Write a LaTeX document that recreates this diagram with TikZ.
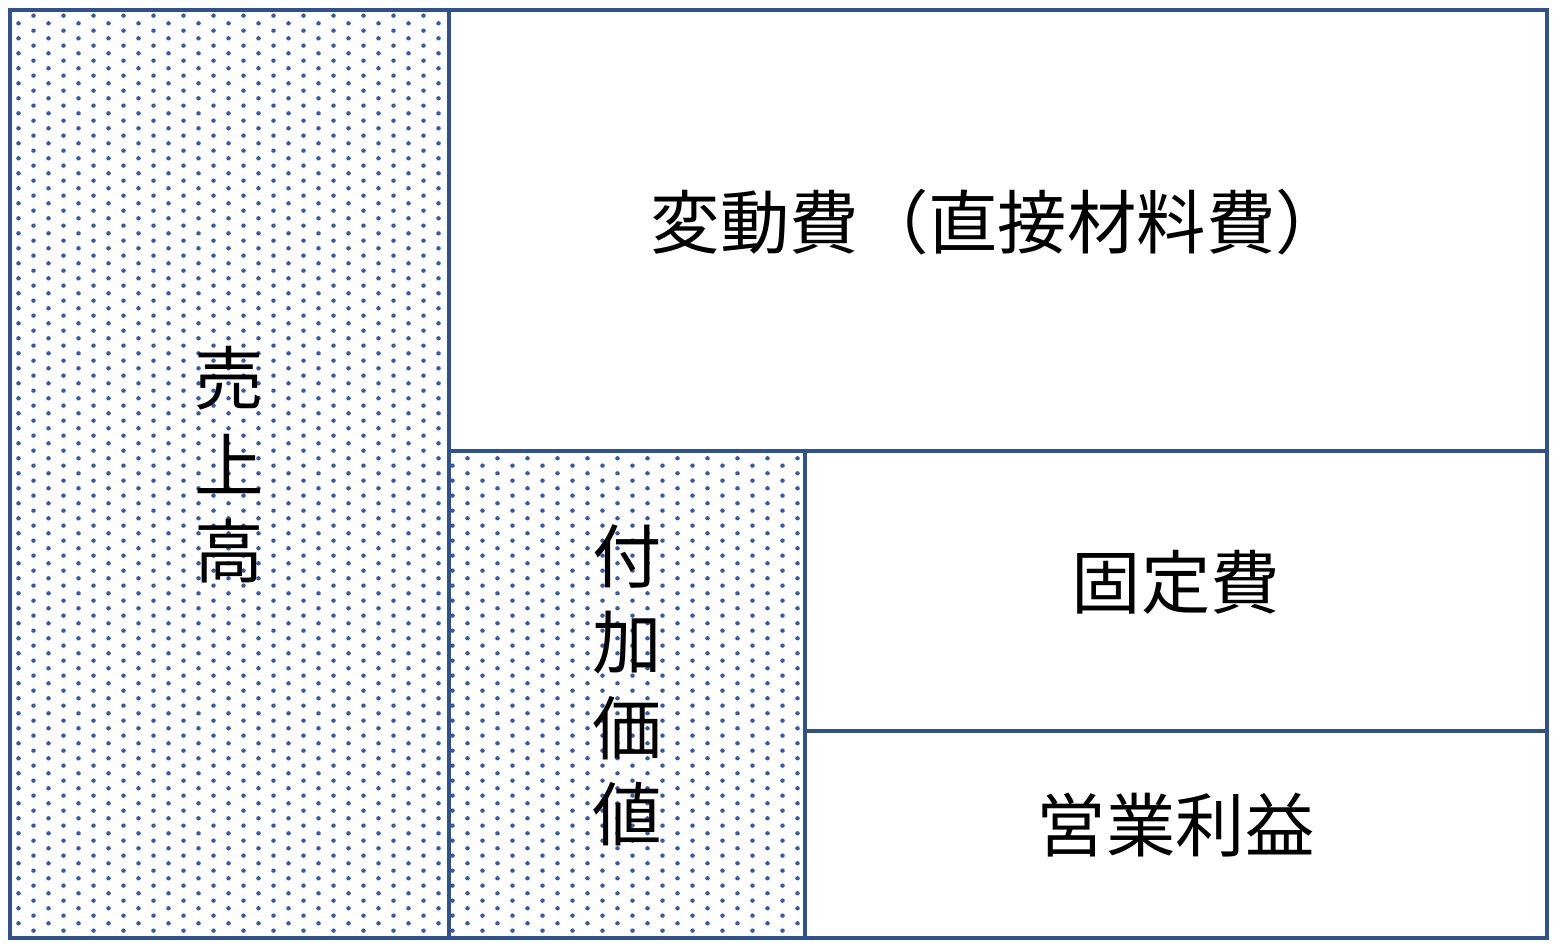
\documentclass[tikz,border=0pt]{standalone}
\usepackage{fontspec}
\newfontfamily\jpfont{Noto Sans CJK JP}
\usetikzlibrary{patterns}
\definecolor{lineblue}{RGB}{47,82,143}
\definecolor{dotblue}{RGB}{50,90,175}
\pgfdeclarepatternformonly{bluedots}{\pgfqpoint{0pt}{0pt}}{\pgfqpoint{17.07pt}{8.71pt}}{\pgfqpoint{17.07pt}{8.71pt}}{%
  \pgfpathcircle{\pgfqpoint{2pt}{2pt}}{1.3pt}
  \pgfpathcircle{\pgfqpoint{10.535pt}{6.355pt}}{1.3pt}
  \pgfusepath{fill}}

\begin{document}
\begin{tikzpicture}[x=0.02cm, y=-0.02cm, every node/.style={rectangle, draw=lineblue, line width=2.2pt, outer sep=0pt, inner sep=0pt, anchor=north west, font=\jpfont\fontsize{39.5}{49}\selectfont, align=center, text depth=0.48cm}, dotbox/.style={pattern=bluedots, pattern color=dotblue}]
    \fill[white] (0,0) rectangle (1556,948);
    \useasboundingbox (0,0) rectangle (1556,948);

    \node (sales) [dotbox, minimum width=8.78cm, minimum height=18.56cm] at (10,10) {売\\上\\高};
    \node (variable) [minimum width=21.96cm, minimum height=8.82cm] at (sales.north east) {変動費（直接材料費）};
    \node (added) [dotbox, minimum width=7.12cm, minimum height=9.74cm] at (variable.south west) {付\\加\\価\\値};
    \node (fixed) [minimum width=14.84cm, minimum height=5.6cm] at (added.north east) {固定費};
    \node (profit) [minimum width=14.84cm, minimum height=4.14cm] at (fixed.south west) {営業利益};
\end{tikzpicture}
\end{document}
